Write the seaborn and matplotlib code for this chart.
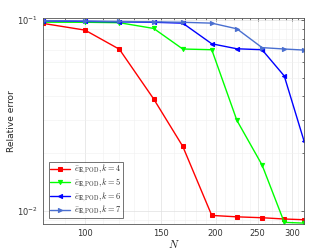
import numpy as np
import pandas as pd
import matplotlib
matplotlib.use("Agg")
import matplotlib.pyplot as plt
import matplotlib.ticker as mticker
import seaborn as sns

# dados
N = [80, 100, 120, 144, 168, 196, 224, 256, 288, 320]
err_k4 = [0.0962, 0.0887, 0.0704, 0.0386, 0.0218, 0.00946, 0.0093, 0.0092, 0.00906, 0.00898]
err_k5 = [0.0976, 0.0975, 0.0970, 0.0905, 0.0706, 0.0700, 0.0298, 0.0174, 0.0087, 0.00862]
err_k6 = [0.0992, 0.0985, 0.0980, 0.0975, 0.0965, 0.0752, 0.0708, 0.0700, 0.0510, 0.0232]
err_k7 = [0.0995, 0.0990, 0.0985, 0.0980, 0.0975, 0.0965, 0.0901, 0.0718, 0.0706, 0.0697]

series = {4: err_k4, 5: err_k5, 6: err_k6, 7: err_k7}
cores = {4: "#ff0000", 5: "#00ff00", 6: "#0000ff", 7: "#4a6fd0"}
marcadores = {4: "s", 5: "v", 6: "<", 7: ">"}

df = pd.concat([pd.DataFrame({"N": N, "erro": v, "k": k}) for k, v in series.items()])

sns.set_style("white")
plt.rcParams["font.family"] = ["DejaVu Sans"]
plt.rcParams["mathtext.fontset"] = "cm"

fig, ax = plt.subplots(figsize=(3.36, 2.52), dpi=100)

for k in series:
    sub = df[df["k"] == k]
    sns.lineplot(data=sub, x="N", y="erro", ax=ax, color=cores[k], marker=marcadores[k],
                 markersize=3, linewidth=1.0, markeredgecolor=cores[k],
                 label=r"$\bar{e}_{\mathbf{E},\mathrm{POD}}, k = %d$" % k)

ax.set_xscale("log")
ax.set_yscale("log")
ax.set_xlim(80, 320)
ax.set_ylim(0.0085, 0.1025)

ax.xaxis.set_major_locator(mticker.FixedLocator([100, 150, 200, 250, 300]))
ax.xaxis.set_major_formatter(mticker.FixedFormatter(["100", "150", "200", "250", "300"]))
ax.xaxis.set_minor_locator(mticker.FixedLocator([x for x in range(80, 330, 10) if x not in (100, 150, 200, 250, 300)]))
ax.xaxis.set_minor_formatter(mticker.NullFormatter())
ax.yaxis.set_major_locator(mticker.LogLocator(base=10))
ax.yaxis.set_minor_locator(mticker.LogLocator(base=10, subs=np.arange(2, 10)))
ax.yaxis.set_minor_formatter(mticker.NullFormatter())

ax.grid(True, which="major", color="#e0e0e0", linewidth=0.5)
ax.grid(True, which="minor", color="#f0f0f0", linewidth=0.4)
ax.tick_params(which="both", direction="in", labelsize=6, length=2.5, width=0.5,
               top=True, right=True, colors="#333333")
ax.tick_params(which="minor", length=1.5)
for s in ax.spines.values():
    s.set_linewidth(0.6)
    s.set_color("#555555")

ax.set_xlabel(r"$N$", fontsize=8, labelpad=0)
ax.set_ylabel("Relative error", fontsize=6.5, labelpad=1)

leg = ax.legend(loc="lower left", bbox_to_anchor=(0.023, 0.03), fontsize=6, frameon=True,
                fancybox=False, edgecolor="#333333", borderpad=0.1, labelspacing=0.0,
                handlelength=2.4, handletextpad=0.5, borderaxespad=0.0)
leg.get_frame().set_linewidth(0.6)

fig.subplots_adjust(left=0.128, right=0.905, top=0.928, bottom=0.11)
fig.savefig("out.png", dpi=100)
